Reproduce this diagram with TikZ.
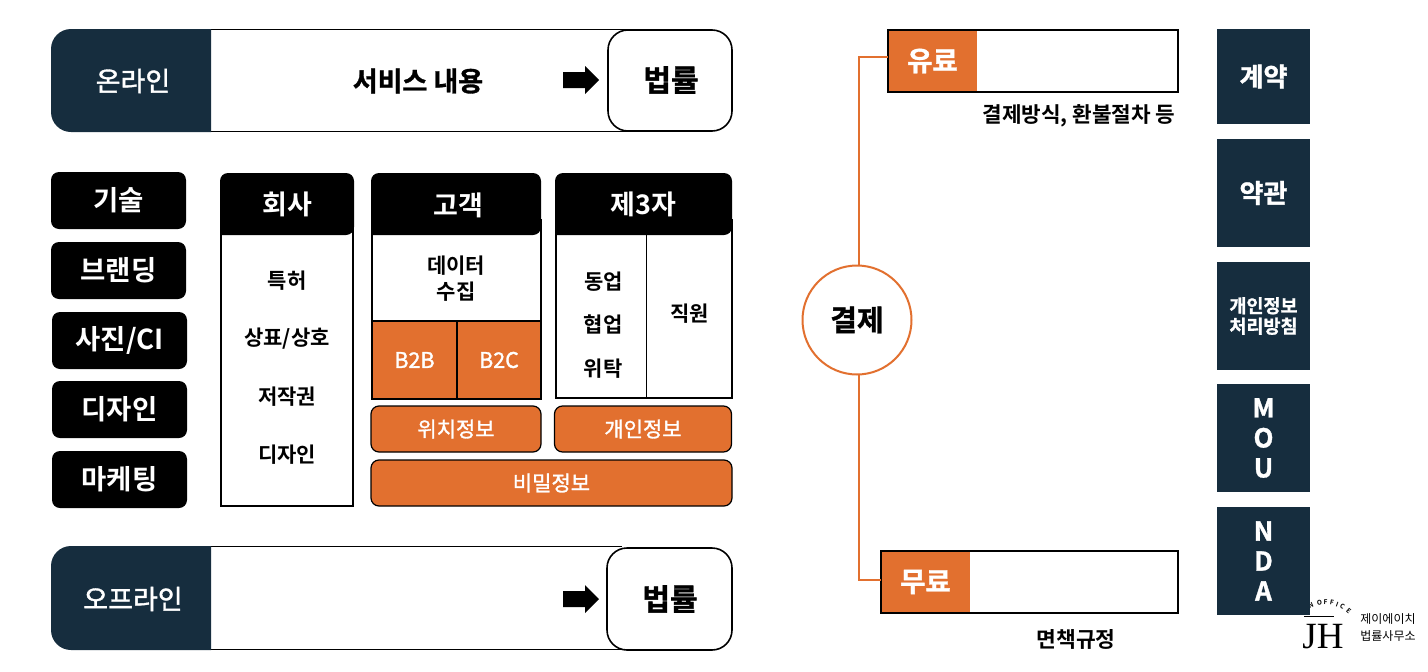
\documentclass[tikz,border=0pt]{standalone}
\usepackage{fontspec}
\setmainfont{Noto Sans CJK KR}
\newfontfamily\krb{Noto Sans CJK KR Bold}
\newfontfamily\krh[FakeBold=1.2]{Noto Sans CJK KR Bold}
\newfontfamily\krm[FakeBold=1.4]{Noto Sans CJK KR}
\newfontfamily\logoserif{Liberation Serif}
\definecolor{navy}{HTML}{162D3E}
\definecolor{orange}{HTML}{E2702F}
\newcommand{\fs}[1]{\fontsize{#1}{#1}\selectfont}
\tikzset{
  x=1pt,y=-1pt,
  every node/.style={inner sep=0pt,outer sep=0pt,align=center},
  lbl/.style={font=\krb\fs{21},text=black},
  lblw/.style={font=\krb\fs{27},text=white},
  sidebox/.style={fill=black,rounded corners=8pt,text=white,font=\krb\fs{27.5}},
  navybox/.style={fill=navy,text=white,font=\krh\fs{26}},
  orbox/.style={fill=orange,draw=black,line width=1.2pt,rounded corners=8pt,text=white,font=\krm\fs{21}},
  orcell/.style={fill=orange,draw=black,line width=1.2pt,text=white,font=\krm\fs{21.5}},
  wcell/.style={fill=white,draw=black,line width=1.2pt},
  big/.style={font=\krh\fs{27},text=black},
  conn/.style={draw=orange,line width=2pt},
  pill/.style={fill=white,draw=black,line width=1.6pt,rounded corners=20pt},
  arrowfill/.style={fill=black},
}
\begin{document}
\begin{tikzpicture}
\useasboundingbox (0,0) rectangle (1428,672);
% online bar
\draw[black,line width=1.2pt] (205,29.5) -- (650,29.5) (205,131.5) -- (650,131.5);
\fill[navy] (211,29) [rounded corners=20pt] -- (51,29) -- (51,132) [sharp corners] -- (211,132) -- cycle;
\node[text=white,font=\krm\fs{27}] (on) at (133,81) {온라인};
\node[big] (svc) at (418,81) {서비스 내용};
\draw[pill] (608,30) rectangle (732,131);
\node[font=\krh\fs{30}] (law1) at (671,80) {법률};
\fill[arrowfill] (563,72) -- (585,72) -- (585,66) -- (599,80) -- (585,94) -- (585,88) -- (563,88) -- cycle;
% offline bar
\draw[black,line width=1.2pt] (205,546.5) -- (622,546.5) (205,649.5) -- (650,649.5);
\fill[navy] (211,546) [rounded corners=20pt] -- (51,546) -- (51,650) [sharp corners] -- (211,650) -- cycle;
\node[text=white,font=\krm\fs{27}] (off) at (133,599) {오프라인};
\draw[pill] (607,548) rectangle (732,650);
\node[font=\krh\fs{30}] (law2) at (670,599) {법률};
\fill[arrowfill] (563,591) -- (585,591) -- (585,585) -- (599,599) -- (585,613) -- (585,607) -- (563,607) -- cycle;
% left pills
\node[sidebox,minimum width=135pt,minimum height=57pt] (a1) at (118.5,200.5) {기술};
\node[sidebox,minimum width=135pt,minimum height=57pt] (a2) at (118.5,270.5) {브랜딩};
\node[sidebox,minimum width=135pt,minimum height=57pt] (a3) at (119.5,340.5) {사진/CI};
\node[sidebox,minimum width=135pt,minimum height=57pt] (a4) at (119.5,409.5) {디자인};
\node[sidebox,minimum width=135pt,minimum height=57pt] (a5) at (119.5,479.5) {마케팅};
% company
\draw[wcell] (221,220) rectangle (353,506);
\fill[black] (220,235) [rounded corners=8pt] -- (220,173) -- (354,173) -- (354,235) [sharp corners] -- cycle;
\node[lblw] (c0) at (287,204) {회사};
\node[lbl] (c1) at (287,280.5) {특허};
\node[lbl] (c2) at (287,338.5) {상표/상호};
\node[lbl] (c3) at (287,396.5) {저작권};
\node[lbl] (c4) at (287,454.5) {디자인};
% customer
\draw[wcell] (372,220) rectangle (541,398);
\fill[black] (371,235) [rounded corners=8pt] -- (371,173) -- (541,173) -- (541,235) [sharp corners] -- cycle;
\node[lblw] (k0) at (458,205) {고객};
\node[lbl] (k1) at (456,278.5) {데이터\\[5pt]수집};
\node[orcell,minimum width=85pt,minimum height=78pt,anchor=north west] (b2b) at (372,321) {B2B};
\node[orcell,minimum width=84pt,minimum height=78pt,anchor=north west] (b2c) at (457,321) {B2C};
% third party
\draw[wcell] (556,220) rectangle (732,398);
\draw[black,line width=1.2pt] (646.5,234) -- (646.5,398);
\fill[black] (555,235) [rounded corners=8pt] -- (555,173) -- (732,173) -- (732,235) [sharp corners] -- cycle;
\node[lblw] (t0) at (643.5,204) {제3자};
\node[lbl] (t1) at (603.5,281.5) {동업};
\node[lbl] (t2) at (603,324) {협업};
\node[lbl] (t3) at (603,369) {위탁};
\node[lbl] (t4) at (689.5,314) {직원};
% info boxes
\node[orbox,minimum width=170pt,minimum height=46pt,anchor=north west] (p1) at (371,406) {위치정보};
\node[orbox,minimum width=177pt,minimum height=46pt,anchor=north west] (p2) at (554.5,406) {개인정보};
\node[orbox,minimum width=361pt,minimum height=46pt,anchor=north west] (p3) at (371,460) {비밀정보};
% payment
\coordinate (tp) at (859,57);
\coordinate (bt) at (859,580);
\node[draw=orange,line width=2pt,fill=white,circle,minimum size=109pt,font=\krh\fs{29}] (pay) at (857,320) {결제};
\node[fill=orange,font=\krh\fs{27.5},text=white,minimum width=89pt,minimum height=62pt,anchor=north west] (paid) at (888,30) {유료};
\draw[black,line width=1.2pt] (888,30) rectangle (1178,92);
\node[fill=orange,font=\krh\fs{27.5},text=white,minimum width=89pt,minimum height=62pt,anchor=north west] (free) at (881,551) {무료};
\draw[black,line width=1.2pt] (881,551) rectangle (1178,613);
\draw[conn] (tp -| paid.west) -- (tp) -- (tp |- pay.north);
\draw[conn] (bt -| free.west) -- (bt) -- (bt |- pay.south);
\node[font=\krb\fs{21.3}] (n1) at (1079,116) {결제방식, 환불절차 등};
\node[font=\krb\fs{21.5}] (n2) at (1076,639) {면책규정};
% logo arc (under the navy box)
\foreach \c/\a/\r in {N/113/23,O/99/9,F/89/-1,F/79/-11,I/70/-20,C/61/-29,E/49/-41}{
  \node[font=\krb\fs{6.5},rotate=\r,text=black] at ({1325+36*cos(\a)},{638-36*sin(\a)}) {\c};
}
% right column
\node[navybox,minimum width=93pt,minimum height=95pt,anchor=north west] (r1) at (1217,29) {계약};
\node[navybox,minimum width=93pt,minimum height=108pt,anchor=north west] (r2) at (1217,139) {약관};
\node[navybox,minimum width=93pt,minimum height=108pt,anchor=north west,font=\krh\fs{18.5}] (r3) at (1217,262) {개인정보\\[2pt]처리방침};
\node[navybox,minimum width=93pt,minimum height=108pt,anchor=north west] (r4) at (1217,384) {M\\[4pt]O\\[4pt]U};
\node[navybox,minimum width=93pt,minimum height=108pt,anchor=north west] (r5) at (1217,507) {N\\[4pt]D\\[4pt]A};
% logo
\draw[black,line width=0.8pt] (1304,616) -- (1334,616);
\node[font=\logoserif\fs{37},anchor=base,text=black] (jh) at (1323,648) {JH};
\node[font=\fs{12},text=black] (lg1) at (1388,619) {제이에이치};
\node[font=\fs{12},text=black] (lg2) at (1388,636) {법률사무소};
\end{tikzpicture}
\end{document}
